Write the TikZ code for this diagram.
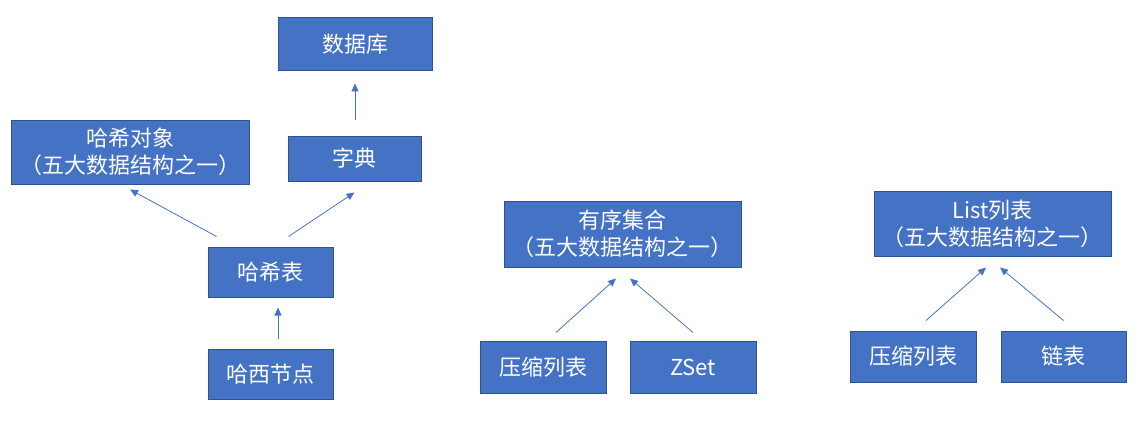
\documentclass[tikz,border=0pt]{standalone}
\usepackage{fontspec}
\usepackage{tikz}
\usetikzlibrary{arrows.meta, positioning, calc}
\newfontfamily\cjk{Noto Sans CJK SC}
\definecolor{boxblue}{HTML}{4472C4}
\definecolor{boxline}{HTML}{2F528F}
\definecolor{arrblue}{HTML}{4472C4}

\begin{document}
\begin{tikzpicture}[x=1pt, y=1pt,
    box/.style={draw=boxline, fill=boxblue, text=white, line width=1pt,
      font=\cjk\fontsize{22}{27}\selectfont, align=center, inner sep=0pt},
    arr/.style={draw=arrblue, line width=0.8pt, -{Triangle[length=8pt, width=7pt]}}]
  \useasboundingbox (0,0) rectangle (1145,432);
  % hash side
  \node[box, minimum width=154, minimum height=53] (db) at (355,387.5) {数据库};
  \node[box, minimum width=238, minimum height=64] (hobj) at (130,280) {哈希对象\\（五大数据结构之一）};
  \node[box, minimum width=133, minimum height=45] (dict) at (354.5,273.5) {字典};
  \node[box, minimum width=125, minimum height=50] (htab) at (270.5,160) {哈希表};
  \node[box, minimum width=125, minimum height=50, below=51 of htab] (hnode) {哈西节点};
  % sorted set
  \node[box, minimum width=237, minimum height=66] (sset) at (622.5,198) {有序集合\\（五大数据结构之一）};
  \node[box, minimum width=126, minimum height=52] (zl1) at (543,65) {压缩列表};
  \node[box, minimum width=126, minimum height=52, right=23 of zl1] (zset) {ZSet};
  % list
  \node[box, minimum width=237, minimum height=65] (list) at (992.5,208.5) {List列表\\（五大数据结构之一）};
  \node[box, minimum width=126, minimum height=51] (zl2) at (913,75.5) {压缩列表};
  \node[box, minimum width=125, minimum height=51, right=24 of zl2] (link) {链表};

  \draw[arr] ($(dict.north)+(0.5,16)$) -- ($(db.south)+(0,-12)$);
  \draw[arr] ($(htab.north west)+(9,10)$) -- ($(hobj.south)+(0,-5)$);
  \draw[arr] ($(htab.north east)+(-45,10)$) -- ($(dict.south)+(0,-11)$);
  \draw[arr] ($(hnode.north)+(7.5,10)$) -- ($(htab.south)+(7.5,-10)$);
  \draw[arr] ($(zl1.north)+(13,8)$) -- ($(sset.south)+(-6.5,-11)$);
  \draw[arr] ($(zset.north)+(0,8)$) -- ($(sset.south)+(7.5,-11)$);
  \draw[arr] ($(zl2.north)+(13,10)$) -- ($(list.south)+(-6.5,-11)$);
  \draw[arr] ($(link.north)+(0,10)$) -- ($(list.south)+(7.5,-11)$);
\end{tikzpicture}
\end{document}
